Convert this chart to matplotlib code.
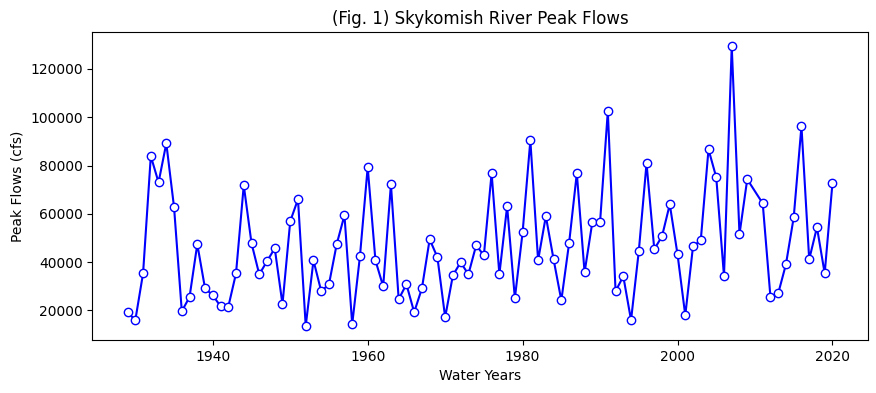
import matplotlib
matplotlib.use("Agg")
import matplotlib.pyplot as plt

years = list(range(1929, 2010)) + list(range(2011, 2021))
peak_flows = [
    19200, 15900, 35300, 83900, 73000, 89200, 62700, 19600, 25500, 47400,
    29100, 26200, 21700, 21400, 35300, 71800, 47800, 34900, 40300, 45700,
    22500, 56900, 66000, 13500, 40700, 27900, 30800, 47400, 59400, 14200,
    42400, 79300, 40700, 29900, 72200, 24600, 30800, 19200, 29100, 49400,
    42000, 17100, 34500, 39900, 34900, 46900, 42800, 76800, 34900, 63100,
    25000, 52300, 90400, 40700, 59000, 41100, 24100, 47800, 76800, 35700,
    56500, 56500, 102500, 27900, 34100, 15900, 44500, 80900, 45300, 50700,
    63900, 43200, 17900, 46500, 49000, 86700, 75100, 34100, 129400, 51500,
    74300,
    64300, 25400, 27000, 39100, 58500, 96300, 41100, 54400, 35300, 72600,
]

fig = plt.figure(figsize=(8.76, 3.93), dpi=100)
ax = fig.add_subplot(111)
fig.subplots_adjust(left=0.1054, right=0.9905, top=0.9178, bottom=0.1349)

ax.plot(years, peak_flows, color="blue", marker="o", markerfacecolor="white",
        markeredgecolor="blue", markersize=6, linewidth=1.5)
ax.set_title("(Fig. 1) Skykomish River Peak Flows")
ax.set_xlabel("Water Years")
ax.set_ylabel("Peak Flows (cfs)")

fig.savefig("out.png", dpi=100)
